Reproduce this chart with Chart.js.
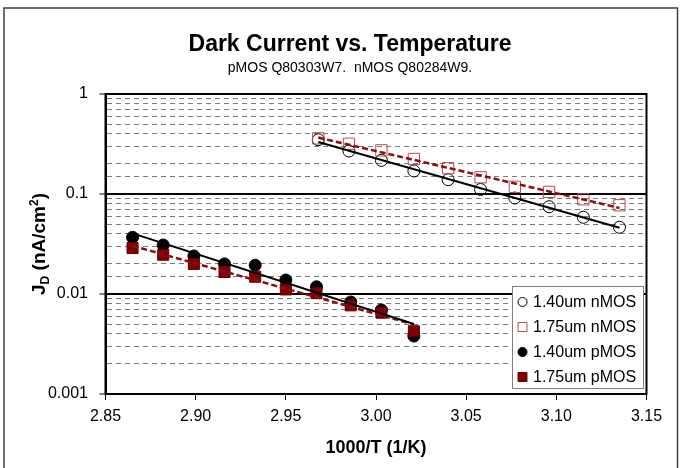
<!DOCTYPE html>
<html><head><meta charset="utf-8">
<script src="https://cdn.jsdelivr.net/npm/chart.js@4.4.0/dist/chart.umd.min.js"></script>
<style>html,body{margin:0;padding:0;background:#fff;}canvas{display:block;}</style>
</head><body>
<canvas id="c" width="681" height="468"></canvas>
<script>
// ---------- data ----------
const chartTitle = 'Dark Current vs. Temperature';
const chartSubtitle = 'pMOS Q80303W7.  nMOS Q80284W9.';
const xAxisTitle = '1000/T (1/K)';
const seriesNames = ['1.40um nMOS', '1.75um nMOS', '1.40um pMOS', '1.75um pMOS'];
const xTicks = [2.85, 2.90, 2.95, 3.00, 3.05, 3.10, 3.15];
const yTicks = [0.001, 0.01, 0.1, 1];

const nmosX   = [2.968, 2.985, 3.003, 3.021, 3.040, 3.058, 3.077, 3.096, 3.115, 3.135];
const nmos140 = [0.349, 0.269, 0.217, 0.170, 0.139, 0.111, 0.0912, 0.0746, 0.0585, 0.0465];
const nmos175 = [0.360, 0.318, 0.273, 0.224, 0.181, 0.147, 0.118, 0.105, 0.0885, 0.0771];
const pmosX   = [2.865, 2.882, 2.899, 2.916, 2.933, 2.950, 2.967, 2.986, 3.003, 3.021];
const pmos140 = [0.0369, 0.0309, 0.0240, 0.0200, 0.0194, 0.0138, 0.0118, 0.00832, 0.00692, 0.00380];
const pmos175 = [0.0288, 0.0247, 0.0200, 0.0166, 0.0149, 0.0111, 0.0102, 0.0077, 0.0065, 0.00424];

// ---------- helpers ----------
const FONT = "'Liberation Sans', Arial, sans-serif";
const RED = '#8e0e0e';
function pts(xs, ys) { return xs.map((x, i) => ({x: x, y: ys[i]})); }
function expFit(xs, ys) {
  const n = xs.length; let sx = 0, sy = 0, sxx = 0, sxy = 0;
  for (let i = 0; i < n; i++) { const l = Math.log(ys[i]); sx += xs[i]; sy += l; sxx += xs[i]*xs[i]; sxy += xs[i]*l; }
  const b = (n*sxy - sx*sy) / (n*sxx - sx*sx); const a = (sy - b*sx) / n;
  return [xs[0], xs[n-1]].map(x => ({x: x, y: Math.exp(a + b*x)}));
}
function isMajor(v) { const l = Math.log10(v); return Math.abs(l - Math.round(l)) < 1e-6; }

const trendBase = {showLine: true, pointRadius: 0, pointHoverRadius: 0, fill: false, order: 0, isTrend: true};
const datasets = [
  Object.assign({}, trendBase, {label: 'trend ' + seriesNames[0], data: expFit(nmosX, nmos140), borderColor: '#000', borderWidth: 2}),
  Object.assign({}, trendBase, {label: 'trend ' + seriesNames[1], data: expFit(nmosX, nmos175), borderColor: RED, borderWidth: 2.5, borderDash: [6, 3]}),
  Object.assign({}, trendBase, {label: 'trend ' + seriesNames[2], data: expFit(pmosX, pmos140), borderColor: '#000', borderWidth: 2}),
  Object.assign({}, trendBase, {label: 'trend ' + seriesNames[3], data: expFit(pmosX, pmos175), borderColor: RED, borderWidth: 2.5, borderDash: [6, 3]}),
  {label: seriesNames[0], data: pts(nmosX, nmos140), pointStyle: 'circle', pointRadius: 6, backgroundColor: 'rgba(0,0,0,0)', borderColor: '#000', borderWidth: 1, order: 4, legendR: 4.5},
  {label: seriesNames[1], data: pts(nmosX, nmos175), pointStyle: 'rect', pointRadius: 8, backgroundColor: 'rgba(0,0,0,0)', borderColor: '#b34d4d', borderWidth: 1, order: 3, legendR: 6.3},
  {label: seriesNames[2], data: pts(pmosX, pmos140), pointStyle: 'circle', pointRadius: 6, backgroundColor: '#000', borderColor: '#000', borderWidth: 1, order: 2, legendR: 4.5},
  {label: seriesNames[3], data: pts(pmosX, pmos175), pointStyle: 'rect', pointRadius: 7.8, backgroundColor: '#800000', borderColor: '#5a0000', borderWidth: 1, order: 1, legendR: 6.3}
];

// ---------- decoration plugin ----------
const deco = {
  id: 'deco',
  beforeDraw(chart) {
    const c = chart.ctx;
    c.save();
    c.fillStyle = '#fff'; c.fillRect(0, 0, chart.width, chart.height);
    c.strokeStyle = '#404040'; c.lineWidth = 1.5;
    c.beginPath(); c.moveTo(4, 480); c.lineTo(4, 8); c.lineTo(677.5, 8); c.lineTo(677.5, 480); c.stroke();
    c.restore();
  },
  afterDraw(chart) {
    const c = chart.ctx, a = chart.chartArea;
    c.save();
    c.strokeStyle = '#000'; c.lineWidth = 2;
    c.strokeRect(a.left, a.top, a.right - a.left, a.bottom - a.top);
    c.fillStyle = '#000'; c.textAlign = 'center'; c.textBaseline = 'middle';
    c.font = 'bold 23px ' + FONT; c.fillText(chartTitle, 350, 45);
    c.font = '14px ' + FONT; c.fillText(chartSubtitle, 350, 68);
    c.font = 'bold 18px ' + FONT; c.fillText(xAxisTitle, (a.left + a.right) / 2, 448);
    const parts = [['J', 19, 0], ['D', 12, 4], [' (nA/cm', 19, 0], ['2', 12, -7], [')', 19, 0]];
    let tot = 0;
    parts.forEach(p => { c.font = 'bold ' + p[1] + 'px ' + FONT; tot += c.measureText(p[0]).width; });
    c.translate(38, (a.top + a.bottom) / 2); c.rotate(-Math.PI / 2);
    c.textAlign = 'left'; c.textBaseline = 'alphabetic';
    let xx = -tot / 2;
    parts.forEach(p => { c.font = 'bold ' + p[1] + 'px ' + FONT; c.fillText(p[0], xx, 7 + p[2]); xx += c.measureText(p[0]).width; });
    c.restore();
    c.save();
    c.fillStyle = '#fff'; c.fillRect(512.5, 286.5, 131, 102);
    c.strokeStyle = '#808080'; c.lineWidth = 1; c.strokeRect(512.5, 286.5, 131, 102);
    const rows = [302, 327, 352, 377];
    const items = chart.data.datasets.filter(d => !d.isTrend);
    items.forEach((d, i) => {
      c.fillStyle = d.backgroundColor; c.strokeStyle = d.borderColor; c.lineWidth = d.borderWidth;
      Chart.helpers.drawPoint(c, {pointStyle: d.pointStyle, radius: d.legendR, borderWidth: d.borderWidth, rotation: 0}, 522.5, rows[i]);
      c.fillStyle = '#000'; c.font = '16px ' + FONT; c.textAlign = 'left'; c.textBaseline = 'middle';
      c.fillText(d.label, 533, rows[i] + 1);
    });
    c.restore();
  }
};

Chart.defaults.font.family = FONT;
Chart.defaults.color = '#000';

new Chart(document.getElementById('c'), {
  type: 'scatter',
  data: {datasets: datasets},
  options: {
    responsive: false, animation: false, devicePixelRatio: 1,
    layout: {padding: {left: 0, right: 34.5, top: 94, bottom: 0}},
    plugins: {legend: {display: false}, tooltip: {enabled: false}, title: {display: false}},
    scales: {
      x: {
        type: 'linear', min: 2.85, max: 3.15,
        afterBuildTicks: s => { s.ticks = xTicks.map(v => ({value: v})); },
        afterFit: s => { s.height = 74; },
        ticks: {callback: v => Number(v).toFixed(2), font: {size: 16}, padding: 7, maxRotation: 0, autoSkip: false, color: '#000'},
        grid: {drawOnChartArea: false, drawTicks: true, tickLength: 6, tickColor: '#000', tickWidth: 1},
        border: {display: true, color: '#000', width: 2}
      },
      y: {
        type: 'logarithmic', min: 0.001, max: 1,
        afterFit: s => { s.width = 105.5; },
        ticks: {
          autoSkip: false, font: {size: 16}, padding: 11.5, color: '#000',
          callback: v => { const t = yTicks.find(k => Math.abs(k - v) / k < 1e-6); return t === undefined ? '' : String(t); }
        },
        grid: {
          drawOnChartArea: true, drawTicks: true, tickLength: 6, tickWidth: 1,
          color: c => (c.tick && isMajor(c.tick.value)) ? '#000' : '#7a7a7a',
          lineWidth: c => (c.tick && isMajor(c.tick.value)) ? 2 : 1,
          tickColor: c => (c.tick && isMajor(c.tick.value)) ? '#000' : 'rgba(0,0,0,0)',
          tickBorderDash: []
        },
        border: {display: true, color: '#000', width: 2,
          dash: c => (c.tick && !isMajor(c.tick.value)) ? [5, 4] : []}
      }
    }
  },
  plugins: [deco]
});
</script>
</body></html>
